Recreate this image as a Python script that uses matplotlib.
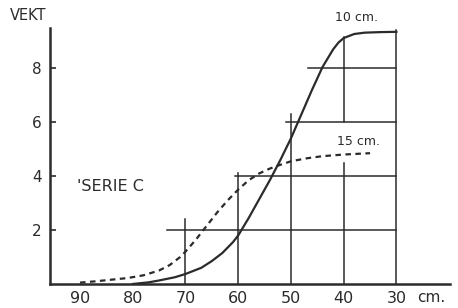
import matplotlib.pyplot as plt

# curve data (length class in cm -> weight)
solid_x = [80, 77, 75, 72, 70, 67, 65, 63, 61, 60, 58, 56, 54, 52, 50,
           48, 46, 44, 42, 41, 40, 38, 36, 33, 30]
solid_y = [0, 0.06, 0.13, 0.25, 0.37, 0.6, 0.85, 1.15, 1.55, 1.8, 2.45, 3.15, 3.85, 4.6, 5.4,
           6.3, 7.2, 8.05, 8.7, 8.95, 9.12, 9.27, 9.32, 9.34, 9.35]

dash_x = [90, 87, 84, 81, 78, 75, 73, 71, 70, 68, 66, 64, 62, 60, 58, 56,
          54, 52, 50, 47, 44, 40, 35]
dash_y = [0.05, 0.1, 0.16, 0.22, 0.32, 0.5, 0.7, 1.0, 1.2, 1.65, 2.15, 2.65, 3.1, 3.5, 3.85, 4.1,
          4.28, 4.42, 4.55, 4.66, 4.74, 4.8, 4.85]

x_ticks = [90, 80, 70, 60, 50, 40, 30]
x_labels = ["90", "80", "70", "60", "50", "40", "30"]
y_ticks = [2, 4, 6, 8]

# partial grid lines of the drawing
h_levels = [2, 4, 6, 8]
h_start = [73.5, 60.7, 51, 46.7]
v_segs = [(70, 0, 2.4), (60, 0, 4.1), (50, 0, 6.3), (40, 0, 4.5), (40, 6.0, 9.15), (30, 0, 9.4)]

ink = "#2b2b2b"

fig = plt.figure(figsize=(4.58, 3.08), dpi=100)
ax = fig.add_axes([0.109, 0.078, 0.874, 0.83])

for lvl, xs in zip(h_levels, h_start):
    ax.plot([xs, 30], [lvl, lvl], color=ink, lw=1.1)
for xv, y0, y1 in v_segs:
    ax.plot([xv, xv], [y0, y1], color=ink, lw=1.1)

ax.plot(solid_x, solid_y, color=ink, lw=1.6, solid_joinstyle="round")
ax.plot(dash_x, dash_y, color=ink, lw=1.6, ls=(0, (2.5, 2)))

ax.set_xlim(95.7, 19.8)
ax.set_ylim(0, 9.48)
ax.spines["top"].set_visible(False)
ax.spines["right"].set_visible(False)
for side in ["left", "bottom"]:
    ax.spines[side].set_linewidth(1.8)
    ax.spines[side].set_color(ink)

ax.set_xticks(x_ticks)
ax.set_xticklabels(x_labels)
ax.set_yticks(y_ticks)
ax.tick_params(axis="x", length=0, pad=5, labelsize=11.5, colors=ink)
ax.tick_params(axis="y", direction="in", length=4, width=1.2, pad=6, labelsize=11, colors=ink)

ax.text(37.6, 9.9, "10 cm.", ha="center", va="center", fontsize=9, color=ink, clip_on=False)
ax.text(37.2, 5.3, "15 cm.", ha="center", va="center", fontsize=9, color=ink)
ax.text(90.5, 3.6, "'SERIE C", ha="left", va="center", fontsize=11.5, color=ink)
ax.text(26.0, -0.5, "cm.", ha="left", va="center", fontsize=11, color=ink, clip_on=False)
fig.text(10 / 458, 1 - 15 / 308, "VEKT", ha="left", va="center", fontsize=10.5, color=ink)

fig.savefig("out.png", dpi=100)
